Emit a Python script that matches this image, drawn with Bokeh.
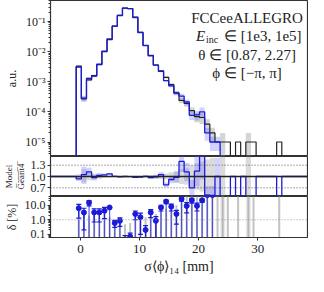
import numpy as np
from bokeh.plotting import figure
from bokeh.layouts import column
from bokeh.models import Range1d, FixedTicker, Span, CustomJSTickFormatter
from bokeh.embed import file_html
from bokeh.resources import INLINE
from bokeh.core.properties import value

# ---------------- data ----------------
first_edge = -0.72      # mm, left edge of first filled bin
bin_width = 0.87        # mm
pad_left = 5            # empty bins on the left
pad_right = 5           # empty bins on the right

geant4 = [3.3e-3, 2.7e-4, 1.15e-3, 1.6e-3, 3.7e-3, 1.0e-2, 2.5e-2, 7.0e-2, 0.16, 0.28,
          0.27, 0.14, 0.044, 0.016, 7.5e-3, 3.6e-3, 2.2e-3, 1.4e-3, 8.0e-4, 4.3e-4,
          2.4e-4, 1.9e-4, 1.1e-4, 7.0e-5, 6.5e-5, 3.9e-5, 2.0e-5, 1.0e-5, 1.0e-5, 1.0e-5,
          0, 1.0e-5, 0, 1.0e-5, 1.0e-5, 0, 0, 0, 0, 1.0e-5]
model = [3.09e-3, 2.84e-4, 1.29e-3, 1.55e-3, 3.82e-3, 1.042e-2, 2.675e-2, 7.04e-2, 0.1586, 0.280,
         0.2698, 0.1365, 0.0433, 0.01603, 7.26e-3, 3.57e-3, 2.31e-3, 1.09e-3, 7.36e-4, 4.19e-4,
         3.36e-4, 2.13e-4, 7.7e-5, 8.0e-5, 1.0e-4, 2.0e-5, 1.0e-5, 1.0e-5, 0, 0,
         0, 0, 0, 0, 0, 0, 0, 0, 0, 0]
geant4_relerr = [0.06, 0.2, 0.1, 0.08, 0.06, 0.035, 0.02, 0.012, 0.008, 0.006,
                 0.006, 0.008, 0.015, 0.025, 0.035, 0.05, 0.065, 0.08, 0.11, 0.15,
                 0.2, 0.22, 0.3, 0.35, 0.4, 0.45, 0.5, 0, 1.0, 0,
                 0, 0, 0, 1.0, 0, 0, 0, 0, 0, 0]
model_relerr = [0.06, 0.2, 0.1, 0.08, 0.06, 0.035, 0.02, 0.012, 0.008, 0.006,
                0.006, 0.008, 0.015, 0.025, 0.035, 0.05, 0.065, 0.08, 0.11, 0.15,
                0.2, 0.22, 0.3, 0.35, 0.4, 0.45, 0.5, 0.5, 0, 0,
                0, 0, 0, 0, 0, 0, 0, 0, 0, 0]
delta_pct = [6.3, 3.2, 15, 3.2, 3.2, 4.2, 7.0, 0.6, 0.85, 0.04,
             0.07, 2.5, 1.5, 0.2, 3.2, 0.85, 7.0, 18, 8.0, 2.5,
             27, 9.0, 22, 9.0, 22, 50, 50]
delta_err = [5, 3, 6, 2.5, 2.5, 3, 0, 0.3, 0.5, 0.04,
             0.05, 1.5, 1.4, 0.19, 1.8, 0.8, 3, 5, 4, 2,
             8, 6, 8, 5, 6, 0, 0]
ref_unc_pct = [1.0, 3.0, 2.0, 2.0, 1.5, 3.0, 1.5, 0.9, 0.8, 0.5,
               0.6, 1.5, 1.2, 1.5, 2.0, 2.5, 4.0, 6.0, 8.0, 10,
               40, 100, 100, 100, 100, 100, 100, 100, 100, 100,
               0, 100, 0, 100, 100, 0, 0, 0, 0, 100]
x_ticks = [0, 10, 20, 30]
main_ticks = [1e-5, 1e-4, 1e-3, 1e-2, 1e-1]
ratio_ticks = [0.7, 1.0, 1.3]
delta_ticks = [0.1, 1.0, 10.0]
info_title = "FCCeeALLEGRO"
info_energy = ["E", "inc", "\u2208 [1e3, 1e5]"]
info_theta = "\u03b8 \u2208 [0.87, 2.27]"
info_phi = "\u03d5 \u2208 [\u2212\u03c0, \u03c0]"

# ---------------- derived ----------------
nb = len(geant4)
ntot = nb + pad_left + pad_right
edges = first_edge + bin_width * (np.arange(ntot + 1) - pad_left)
g = np.concatenate([np.zeros(pad_left), geant4, np.zeros(pad_right)])
m = np.concatenate([np.zeros(pad_left), model, np.zeros(pad_right)])
ge = np.concatenate([np.zeros(pad_left), geant4_relerr, np.zeros(pad_right)])
me = np.concatenate([np.zeros(pad_left), model_relerr, np.zeros(pad_right)])
ratio = np.where(g > 0, m / np.where(g > 0, g, 1), np.where(m > 0, np.nan, 1.0))
left = edges[:-1]
right = edges[1:]
centers = 0.5 * (left + right)

TINY = 1e-12

def step_path(vals, floor):
    xs, ys = [edges[0]], [floor]
    for i, v in enumerate(vals):
        xs += [edges[i], edges[i + 1]]
        ys += [v, v]
    xs.append(edges[-1]); ys.append(floor)
    return xs, ys

FONT = "Liberation Serif"
xr = Range1d(edges[0], edges[-1])
BL = 46
W = 308
BLACK = "#222222"
BLUE = "#1a1ad8"
OUT = "#333333"

def style(p):
    p.grid.visible = False
    p.outline_line_color = OUT
    p.outline_line_width = 1.2
    p.background_fill_color = "white"
    p.border_fill_color = "white"
    for ax in p.yaxis:
        ax.major_label_text_font = FONT
        ax.major_label_text_font_size = "12px"
        ax.major_label_text_color = "#222"
        ax.axis_label_text_font = FONT
        ax.axis_label_text_font_style = "normal"
        ax.axis_label_text_color = "#222"
        ax.axis_line_color = OUT
        ax.major_tick_line_color = OUT
        ax.minor_tick_line_color = OUT
        ax.major_tick_out = 3
        ax.major_tick_in = 0
        ax.minor_tick_out = 2
        ax.minor_tick_in = 0
        ax.major_label_standoff = 2
        ax.axis_label_standoff = 3

# ---------------- main panel ----------------
p1 = figure(width=W, height=156, x_range=xr, y_range=Range1d(3.3e-6, 0.5), y_axis_type="log",
            output_backend="svg", toolbar_location=None,
            min_border_left=BL, min_border_right=1, min_border_top=0, min_border_bottom=0)
style(p1)
p1.xaxis.visible = False
p1.yaxis.ticker = FixedTicker(ticks=main_ticks,
                              minor_ticks=[k * 10.0 ** e for e in range(-6, 0) for k in range(2, 10)])
p1.yaxis.formatter = CustomJSTickFormatter(code="""
const e = Math.round(Math.log10(tick));
const sup = {'-':'\u207b','0':'\u2070','1':'\u00b9','2':'\u00b2','3':'\u00b3','4':'\u2074','5':'\u2075','6':'\u2076'};
return '10' + String(e).split('').map(c => sup[c]).join('');
""")
p1.yaxis.axis_label = "a.u."
p1.yaxis.axis_label_text_font_size = "12px"

sel = g > 0
p1.quad(left=left[sel], right=right[sel], bottom=np.maximum(g[sel] * (1 - ge[sel]), TINY),
        top=g[sel] * (1 + ge[sel]), fill_color="#888888", fill_alpha=0.35, line_color=None)
selm = m > 0
p1.quad(left=left[selm], right=right[selm], bottom=np.maximum(m[selm] * (1 - me[selm]), TINY),
        top=m[selm] * (1 + me[selm]), fill_color="#6a6aff", fill_alpha=0.3, line_color=None)
xs, ys = step_path(np.where(g > 0, g, TINY), TINY)
p1.line(xs, ys, line_color=BLACK, line_width=1.2)
xs, ys = step_path(np.where(m > 0, m, TINY), TINY)
p1.line(xs, ys, line_color=BLUE, line_width=1.3)

text_x = 28.2
TF = "15px"
p1.text(x=[text_x, text_x, text_x], y=[0.135, 8.0e-3, 2.0e-3], text=[info_title, info_theta, info_phi],
        text_font=value(FONT), text_font_size=TF, text_align="center",
        text_baseline="middle", text_color="#222")
p1.text(x=[text_x], y=[0.032], text=[info_energy[0]], x_offset=-51, text_font=value(FONT),
        text_font_style="italic", text_font_size=TF, text_align="left",
        text_baseline="middle", text_color="#222")
p1.text(x=[text_x], y=[0.032], text=[info_energy[1]], x_offset=-41, y_offset=3, text_font=value(FONT),
        text_font_size="10px", text_align="left", text_baseline="middle", text_color="#222")
p1.text(x=[text_x], y=[0.032], text=[info_energy[2]], x_offset=-23, text_font=value(FONT),
        text_font_size=TF, text_align="left", text_baseline="middle", text_color="#222")

# ---------------- ratio panel ----------------
p2 = figure(width=W, height=40, x_range=xr, y_range=Range1d(0.47, 1.53),
            output_backend="svg", toolbar_location=None,
            min_border_left=BL, min_border_right=1, min_border_top=0, min_border_bottom=0)
style(p2)
p2.xaxis.visible = False
p2.yaxis.ticker = FixedTicker(ticks=ratio_ticks)
p2.yaxis.formatter = CustomJSTickFormatter(code="return tick.toFixed(1);")
p2.yaxis.axis_label = "Model\n" + "".join(c + "\u0305" for c in "Geant4")
p2.yaxis.axis_label_text_font_size = "9px"
p2.yaxis.axis_label_standoff = 2

p2.quad(left=left[sel], right=right[sel], bottom=1 - ge[sel], top=1 + ge[sel],
        fill_color="#888888", fill_alpha=0.3, line_color=None)
rsel = selm & sel
p2.quad(left=left[rsel], right=right[rsel], bottom=ratio[rsel] * (1 - me[rsel]),
        top=ratio[rsel] * (1 + me[rsel]), fill_color="#6a6aff", fill_alpha=0.3, line_color=None)
for t in (0.7, 1.3):
    p2.add_layout(Span(location=t, dimension="width", line_color="#555555",
                       line_dash="1 2", line_width=1))
p2.add_layout(Span(location=1.0, dimension="width", line_color=BLACK, line_width=1.3))
xs, ys = step_path(np.nan_to_num(ratio, nan=-1.0), 1.0)
p2.line(xs, ys, line_color=BLUE, line_width=1.3)

# ---------------- delta panel ----------------
p3 = figure(width=W, height=80, x_range=xr, y_range=Range1d(0.06, 40), y_axis_type="log",
            output_backend="svg", toolbar_location=None,
            min_border_left=BL, min_border_right=1, min_border_top=0, min_border_bottom=0)
style(p3)
p3.yaxis.ticker = FixedTicker(ticks=delta_ticks,
                              minor_ticks=[k * 10.0 ** e for e in range(-2, 2) for k in range(2, 10)])
p3.yaxis.formatter = CustomJSTickFormatter(code="return tick.toFixed(1);")
p3.yaxis.axis_label = "\u03b4 [%]"
p3.yaxis.axis_label_text_font_size = "12px"
p3.xaxis.ticker = FixedTicker(ticks=x_ticks)
p3.xaxis.major_label_text_font = FONT
p3.xaxis.major_label_text_font_size = "13px"
p3.xaxis.major_label_text_color = "#222"
p3.xaxis.axis_label = "\u03c3\u27e8\u03d5\u27e9\u2081\u2084 [mm]"
p3.xaxis.axis_label_text_font = FONT
p3.xaxis.axis_label_text_font_style = "normal"
p3.xaxis.axis_label_text_font_size = "14px"
p3.xaxis.axis_label_text_color = "#222"
p3.xaxis.axis_line_color = OUT
p3.xaxis.major_tick_line_color = OUT
p3.xaxis.major_tick_out = 3
p3.xaxis.major_tick_in = 0
p3.xaxis.minor_tick_line_color = None
p3.xaxis.major_label_standoff = 4
p3.xaxis.axis_label_standoff = 3

p3.add_layout(Span(location=1.0, dimension="width", line_color="#999999",
                   line_dash="1 2", line_width=1))
# reference uncertainty stems (grey)
gc = centers[pad_left:pad_left + nb]
gu = np.array(ref_unc_pct, dtype=float)
gs = gu > 0
p3.segment(x0=gc[gs], y0=[1e-3] * int(gs.sum()), x1=gc[gs], y1=gu[gs],
           line_color="#aaaaaa", line_width=2, line_alpha=0.7)
# full-height grey bands where Geant4 relative error is 100%
full = (np.array(geant4_relerr) >= 1.0)
fl = left[pad_left:pad_left + nb][full]
fr = right[pad_left:pad_left + nb][full]
p3.quad(left=fl, right=fr, bottom=[1e-3] * len(fl), top=[1e3] * len(fl),
        fill_color="#888888", fill_alpha=0.18, line_color=None)
# model delta
nd = len(delta_pct)
dc = gc[:nd]
d = np.array(delta_pct, dtype=float)
de = np.array(delta_err, dtype=float)
p3.segment(x0=dc, y0=[1e-3] * nd, x1=dc, y1=d, line_color=BLUE, line_width=1.2, line_alpha=0.7)
lo = np.maximum(d - de, 1e-3)
hi = d + de
has = de > 0
p3.segment(x0=dc[has], y0=lo[has], x1=dc[has], y1=hi[has], line_color=BLUE, line_width=1.2)
p3.scatter(x=dc[has], y=lo[has], marker="dash", size=5, line_color=BLUE, line_width=1.2)
p3.scatter(x=dc[has], y=hi[has], marker="dash", size=5, line_color=BLUE, line_width=1.2)
p3.scatter(x=dc, y=d, marker="circle", size=5, fill_color=BLUE, line_color=BLUE)

layout = column(p1, p2, p3, spacing=0)
open("out.html", "w").write(file_html(layout, INLINE))
